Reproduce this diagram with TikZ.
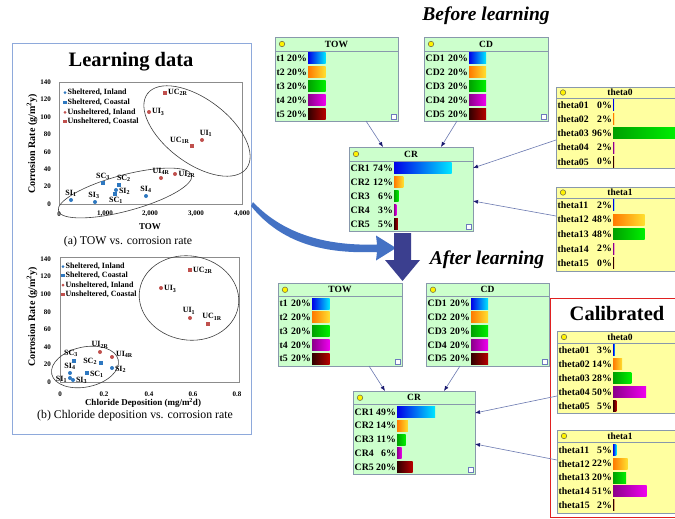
\documentclass[tikz,border=0pt]{standalone}
\usepackage{fontspec}
\setmainfont{Liberation Serif}
\usetikzlibrary{arrows.meta,calc}
\definecolor{nodegreen}{HTML}{CCFFCC}
\definecolor{nodeyellow}{HTML}{FFFFA0}
\definecolor{nodeborder}{HTML}{8898AC}
\definecolor{bl1}{HTML}{0000E8}\definecolor{br1}{HTML}{00E8FF}
\definecolor{bl2}{HTML}{FF7A00}\definecolor{br2}{HTML}{FFE030}
\definecolor{bl3}{HTML}{00A000}\definecolor{br3}{HTML}{00F000}
\definecolor{bl4}{HTML}{8A008A}\definecolor{br4}{HTML}{F000F0}
\definecolor{bl5}{HTML}{300000}\definecolor{br5}{HTML}{B80000}
\definecolor{ptblue}{HTML}{2E78C0}
\definecolor{ptred}{HTML}{C0504D}
\definecolor{panelblue}{HTML}{8EA9DB}
\definecolor{curvblue}{HTML}{4472C4}
\definecolor{navy}{HTML}{3B3F8F}
\definecolor{connline}{HTML}{6A78B0}
\definecolor{tipnavy}{HTML}{1A1A70}
\definecolor{calred}{HTML}{E02020}
\tikzset{
  netnode/.style={draw=nodeborder, line width=0.8pt, inner sep=0pt, outer sep=0pt},
  hdrdot/.style={circle, draw=black!60!yellow, fill=yellow, minimum size=5.5pt, inner sep=0pt, line width=0.6pt},
  hdrtitle/.style={font=\bfseries\fontsize{9.5}{10}\selectfont, inner sep=0pt},
  rowtxt/.style={font=\bfseries\fontsize{9.8}{10}\selectfont, inner sep=0pt},
  cornericon/.style={draw=nodeborder!80!blue, line width=0.5pt, fill=white},
  conn/.style={draw=connline, line width=0.6pt, -{Latex[length=5pt,width=4pt,color=tipnavy]}},
  sic/.style={circle, fill=ptblue, minimum size=4pt, inner sep=0pt},
  scs/.style={rectangle, fill=ptblue, minimum size=4.5pt, inner sep=0pt},
  uic/.style={circle, fill=ptred, minimum size=4pt, inner sep=0pt},
  ucs/.style={rectangle, fill=ptred, minimum size=4.5pt, inner sep=0pt},
  plab/.style={font=\bfseries\fontsize{8}{9}\selectfont, inner sep=0.3pt},
  tick/.style={font=\bfseries\fontsize{7}{8}\selectfont, inner sep=0pt},
  legtxt/.style={font=\bfseries\fontsize{8}{9}\selectfont, inner sep=0pt, anchor=west},
  axtitle/.style={font=\bfseries\fontsize{9}{10}\selectfont, inner sep=0pt},
  ylab/.style={font=\bfseries\fontsize{10}{11}\selectfont, inner sep=0pt, rotate=90},
  captxt/.style={font=\fontsize{11.8}{13}\selectfont, inner sep=0pt},
  ellgray/.style={draw=black!75, line width=0.6pt},
  framegray/.style={draw=black!45, line width=0.6pt},
  bigtitle/.style={font=\bfseries\fontsize{20.5}{23}\selectfont, inner sep=0pt},
  phase/.style={font=\bfseries\itshape\fontsize{19.5}{22}\selectfont, inner sep=0pt}
}
% name, x, y, w, h, header height, fill, title
\newcommand\netbox[8]{%
  \node[netnode, fill=#7, minimum width=#4pt, minimum height=#5pt, anchor=north west] (#1) at (#2,#3) {};
  \draw[nodeborder, line width=0.6pt] ({#2},{#3+#6}) -- ++(#4,0);
  \node[hdrdot] (#1-dot) at ({#2+7},{#3+#6/2}) {};
  \node[hdrtitle] (#1-title) at ({#2+#4/2},{#3+#6/2}) {#8};
  \draw[cornericon] ({#2+#4-7},{#3+#5-7}) rectangle ++(5,5);
}
% prefix, x, ycenter, label, pct, barx, scale, colour index
\newcommand\nrow[8]{%
  \node[rowtxt, anchor=west] (#1-#4-n) at ({#2+1.5},{#3}) {#4};
  \node[rowtxt, anchor=east] (#1-#4-p) at ({#6-1},{#3}) {#5\%};
  \pgfmathsetmacro\bwid{max(#5*#7,1)}%
  \shade[left color=bl#8, right color=br#8] ({#6},{#3-5.5}) rectangle ++(\bwid,11);
}
\begin{document}
\begin{tikzpicture}[x=1pt,y=-1pt]
\useasboundingbox (0,0) rectangle (675,519);
\fill[white] (0,0) rectangle (675,519);

% ================= LEFT PANEL =================
\draw[panelblue, line width=1pt] (12,44) rectangle (251,434);
\node[bigtitle] (ldtitle) at (131,62) {Learning data};

% ---- chart (a)
\draw[framegray] (59,82) rectangle (242,204);
\foreach \v in {0,20,...,140} \node[tick, anchor=east] at ({51},{204-\v*0.871}) {\v};
\node[tick] (ax0) at (59,214) {0};
\node[tick] (ax1) at (105,214) {1,000};
\node[tick] (ax2) at (150,214) {2,000};
\node[tick] (ax3) at (196,214) {3,000};
\node[tick] (ax4) at (242,214) {4,000};
\node[axtitle] (atow) at (150,227) {TOW};
\node[ylab] (aylab) at (32,144) {Corrosion Rate (g/m\textsuperscript{2}y)};
\node[captxt] (acap) at (128,242) {(a) TOW vs. corrosion rate};
% legend
\node[sic, minimum size=3pt] (alg1) at (65,92.7) {}; \node[legtxt] at (67.5,92.7) {Sheltered, Inland};
\node[scs, minimum size=3.5pt] (alg2) at (65,102.3) {}; \node[legtxt] at (67.5,102.3) {Sheltered, Coastal};
\node[uic, minimum size=3pt] (alg3) at (65,112.3) {}; \node[legtxt] at (67.5,112.3) {Unsheltered, Inland};
\node[ucs, minimum size=3.5pt] (alg4) at (65,121.7) {}; \node[legtxt] at (67.5,121.7) {Unsheltered, Coastal};
% ellipses
\draw[ellgray, rotate around={-37:(197,131)}] (197,131) ellipse (62 and 32);
\draw[ellgray, rotate around={15:(125,193)}] (125,193) ellipse (69 and 18);
% points
\node[ucs] (a-uc2r) at (165,93) {}; \node[plab, anchor=west] at (167.5,92.5) {UC\textsubscript{2R}};
\node[uic] (a-ui3) at (149,112) {}; \node[plab, anchor=west] at (151.5,112) {UI\textsubscript{3}};
\node[uic] (a-ui1) at (202,140) {}; \node[plab, anchor=south] at (206,137) {UI\textsubscript{1}};
\node[ucs] (a-uc1r) at (192,146) {}; \node[plab, anchor=south east] at (190,144) {UC\textsubscript{1R}};
\node[uic] (a-ui4r) at (161,178) {}; \node[plab, anchor=south] at (161,175) {UI\textsubscript{4R}};
\node[uic] (a-ui2r) at (175,174) {}; \node[plab, anchor=west] at (178,174) {UI\textsubscript{2R}};
\node[scs] (a-sc3) at (103,183) {}; \node[plab, anchor=south] at (103,180) {SC\textsubscript{3}};
\node[scs] (a-sc2) at (119,185) {}; \node[plab, anchor=south west] at (116.5,182) {SC\textsubscript{2}};
\node[sic] (a-si2) at (116,190) {}; \node[plab, anchor=west] at (118.5,191) {SI\textsubscript{2}};
\node[scs] (a-sc1) at (115,194) {}; \node[plab, anchor=north] at (116,196.5) {SC\textsubscript{1}};
\node[sic] (a-si4) at (146,196) {}; \node[plab, anchor=south] at (146,193) {SI\textsubscript{4}};
\node[sic] (a-si1) at (71,200) {}; \node[plab, anchor=south] at (71,197) {SI\textsubscript{1}};
\node[sic] (a-si3) at (95,202) {}; \node[plab, anchor=south] at (94,199) {SI\textsubscript{3}};

% ---- chart (b)
\draw[framegray] (60,257) rectangle (239,382);
\foreach \v in {0,20,...,140} \node[tick, anchor=east] at ({51},{382-\v*0.8786}) {\v};
\node[tick] (bx0) at (60,394) {0};
\node[tick] (bx1) at (104,394) {0.2};
\node[tick] (bx2) at (149,394) {0.4};
\node[tick] (bx3) at (193,394) {0.6};
\node[tick] (bx4) at (237,394) {0.8};
\node[axtitle] (bcd) at (143,403) {Chloride Deposition (mg/m\textsuperscript{2}d)};
\node[ylab] (bylab) at (32,317) {Corrosion Rate (g/m\textsuperscript{2}y)};
\node[captxt] (bcap) at (135,416) {(b) Chloride deposition vs. corrosion rate};
\node[sic, minimum size=3pt] (blg1) at (63,266.7) {}; \node[legtxt] at (65.5,266.7) {Sheltered, Inland};
\node[scs, minimum size=3.5pt] (blg2) at (63,275.3) {}; \node[legtxt] at (65.5,275.3) {Sheltered, Coastal};
\node[uic, minimum size=3pt] (blg3) at (63,285) {}; \node[legtxt] at (65.5,285) {Unsheltered, Inland};
\node[ucs, minimum size=3.5pt] (blg4) at (63,294.3) {}; \node[legtxt] at (65.5,294.3) {Unsheltered, Coastal};
\draw[ellgray, rotate around={-10:(189,298)}] (189,298) ellipse (50 and 42);
\draw[ellgray, rotate around={12:(85,367)}] (85,367) ellipse (34 and 20);
\node[ucs] (b-uc2r) at (190,270) {}; \node[plab, anchor=west] at (192.5,270) {UC\textsubscript{2R}};
\node[uic] (b-ui3) at (161,288) {}; \node[plab, anchor=west] at (163.5,289) {UI\textsubscript{3}};
\node[uic] (b-ui1) at (190,318) {}; \node[plab, anchor=south] at (189,314.5) {UI\textsubscript{1}};
\node[ucs] (b-uc1r) at (208,324) {}; \node[plab, anchor=south] at (212,320.5) {UC\textsubscript{1R}};
\node[uic] (b-ui2r) at (100,352) {}; \node[plab, anchor=south] at (100,348.5) {UI\textsubscript{2R}};
\node[uic] (b-ui4r) at (112,357) {}; \node[plab, anchor=west] at (115.5,354) {UI\textsubscript{4R}};
\node[scs] (b-sc3) at (74,361) {}; \node[plab, anchor=south] at (71,357.5) {SC\textsubscript{3}};
\node[scs] (b-sc2) at (101,363) {}; \node[plab, anchor=east] at (97.5,361) {SC\textsubscript{2}};
\node[sic] (b-si2) at (112,368) {}; \node[plab, anchor=west] at (114.5,369) {SI\textsubscript{2}};
\node[scs] (b-sc1) at (87,373) {}; \node[plab, anchor=west] at (89.5,374) {SC\textsubscript{1}};
\node[sic] (b-si4) at (70,373) {}; \node[plab, anchor=south] at (70,370) {SI\textsubscript{4}};
\node[sic] (b-si1) at (70,378) {}; \node[plab, anchor=east] at (67.5,379) {SI\textsubscript{1}};
\node[sic] (b-si3) at (73,380) {}; \node[plab, anchor=west] at (75.5,380.5) {SI\textsubscript{3}};

% ================= ARROWS BETWEEN PHASES =================
\coordinate (cs1) at (253,202);
\coordinate (cs2) at (251,206);
\coordinate (ce1) at (377,244.5);
\coordinate (ce2) at (377,252);
\coordinate (ctip) at (396,248);
\fill[curvblue] (cs1) .. controls (285,236) and (330,246) .. (ce1) -- (376,235.5) -- (ctip) -- (376,260.5) -- (ce2) .. controls (325,254) and (282,244) .. (cs2) -- cycle;
\fill[navy] (394,233) -- (411,233) -- (411,260) -- (420,260) -- (402.5,281) -- (385,260) -- (394,260) -- cycle;

\node[phase] (before) at (486,16) {Before learning};
\node[phase] (after) at (487,260) {After learning};

% ================= BEFORE LEARNING NETWORK =================
\netbox{towa}{275}{37}{123}{84}{14}{nodegreen}{TOW}
\foreach \i [evaluate=\i as \yy using 58+(\i-1)*14] in {1,...,5} {\nrow{towa}{275}{\yy}{t\i}{20}{308}{0.88}{\i}}
\netbox{cda}{424}{37}{124}{84}{14}{nodegreen}{CD}
\foreach \i [evaluate=\i as \yy using 58+(\i-1)*14] in {1,...,5} {\nrow{cda}{424}{\yy}{CD\i}{20}{469}{0.85}{\i}}
\netbox{cra}{349}{147}{124}{84}{14}{nodegreen}{CR}
\foreach \i/\p [evaluate=\i as \yy using 168+(\i-1)*14] in {1/74,2/12,3/6,4/3,5/5} {\nrow{cra}{349}{\yy}{CR\i}{\p}{394}{0.78}{\i}}
\netbox{thza}{556}{87}{128}{81}{11}{nodeyellow}{theta0}
\foreach \i/\p [evaluate=\i as \yy using 105+(\i-1)*14.2] in {1/0,2/2,3/96,4/2,5/0} {\nrow{thza}{556}{\yy}{theta0\i}{\p}{613}{0.66}{\i}}
\netbox{thoa}{556}{187}{128}{84}{11}{nodeyellow}{theta1}
\foreach \i/\p [evaluate=\i as \yy using 205+(\i-1)*14.6] in {1/2,2/48,3/48,4/2,5/0} {\nrow{thoa}{556}{\yy}{theta1\i}{\p}{613}{0.66}{\i}}

\draw[conn] ($(towa.south west)+(91,0)$) -- ($(cra.north west)+(34,0)$);
\draw[conn] ($(cda.south west)+(33,0)$) -- ($(cra.north west)+(92,0)$);
\draw[conn] ($(thza.north west)+(0,53)$) -- ($(cra.north east)+(0,21)$);
\draw[conn] ($(thoa.north west)+(0,29)$) -- ($(cra.north east)+(0,54)$);

% ================= AFTER LEARNING NETWORK =================
\netbox{towb}{278}{283}{124}{83}{13.5}{nodegreen}{TOW}
\foreach \i [evaluate=\i as \yy using 303.5+(\i-1)*13.8] in {1,...,5} {\nrow{towb}{278}{\yy}{t\i}{20}{312}{0.88}{\i}}
\netbox{cdb}{426}{283}{123}{83}{13.5}{nodegreen}{CD}
\foreach \i [evaluate=\i as \yy using 303.5+(\i-1)*13.8] in {1,...,5} {\nrow{cdb}{426}{\yy}{CD\i}{20}{471}{0.85}{\i}}
\netbox{crb}{353}{391}{122}{83}{13.5}{nodegreen}{CR}
\foreach \i/\p [evaluate=\i as \yy using 412+(\i-1)*13.8] in {1/49,2/14,3/11,4/6,5/20} {\nrow{crb}{353}{\yy}{CR\i}{\p}{397}{0.78}{\i}}

\draw[calred, line width=1pt] (550,298) rectangle (678,517);
\node[bigtitle] (calib) at (617,313) {Calibrated};
\netbox{thzb}{557}{331}{126}{82}{12}{nodeyellow}{theta0}
\foreach \i/\p [evaluate=\i as \yy using 350+(\i-1)*14] in {1/3,2/14,3/28,4/50,5/5} {\nrow{thzb}{557}{\yy}{theta0\i}{\p}{613}{0.66}{\i}}
\netbox{thob}{557}{430}{126}{83}{12}{nodeyellow}{theta1}
\foreach \i/\p [evaluate=\i as \yy using 450+(\i-1)*13.8] in {1/5,2/22,3/20,4/51,5/2} {\nrow{thob}{557}{\yy}{theta1\i}{\p}{613}{0.66}{\i}}

\draw[conn] ($(towb.south west)+(91,0)$) -- ($(crb.north west)+(32,0)$);
\draw[conn] ($(cdb.south west)+(34,0)$) -- ($(crb.north west)+(91,0)$);
\draw[conn] ($(thzb.north west)+(0,65)$) -- ($(crb.north east)+(0,22)$);
\draw[conn] ($(thob.north west)+(0,30)$) -- ($(crb.north east)+(0,53)$);
\end{tikzpicture}
\end{document}
